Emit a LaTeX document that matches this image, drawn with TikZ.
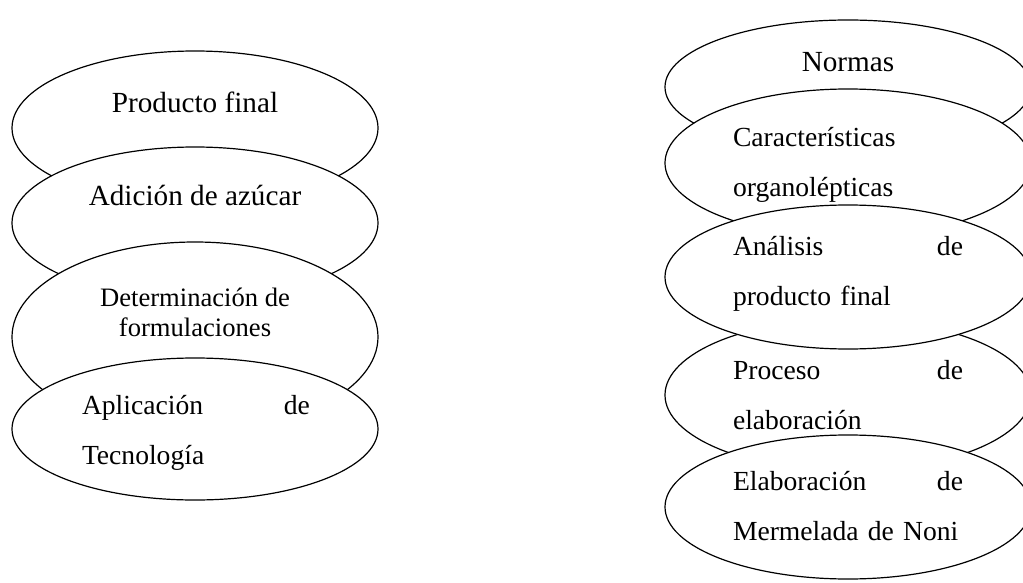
\documentclass[tikz,border=0pt]{standalone}
\usepackage{fontspec}
\setmainfont{Liberation Serif}
\usetikzlibrary{shapes.geometric}

\begin{document}
\begin{tikzpicture}[
    x=0.5pt, y=-0.5pt,
    oval/.style={ellipse, draw, line width=0.6pt, fill=white, inner sep=0pt,
                 minimum width=183pt},
    lbl/.style={inner sep=0pt, font=\fontsize{14.6pt}{25pt}\selectfont},
    two/.style={lbl, text width=115pt, align=left,
                font=\fontsize{13.8pt}{25pt}\selectfont}
]
\useasboundingbox (0,0) rectangle (1023,583);

% columna izquierda
\node[oval, minimum height=77pt] (pf) at (195,128) {};
\node[lbl] (pft) at (195,102) {Producto final};
\node[oval, minimum height=76pt] (aa) at (195,223) {};
\node[lbl] (aat) at (195,195) {Adición de azúcar};
\node[oval, minimum height=95pt] (df) at (195,337) {};
\node[lbl, align=center, font=\fontsize{13.3pt}{15pt}\selectfont] (dft) at (195,312)
    {Determinación de\\formulaciones};
\node[oval, minimum height=71pt] (at) at (195,429) {};
\node[two, text width=114pt] (att) at (196,433) {Aplicación \hfill de\\Tecnología};

% columna derecha
\node[oval, minimum height=67pt] (no) at (848,87) {};
\node[lbl] (not) at (848,62) {Normas};
\node[oval, minimum height=74pt] (co) at (848,163) {};
\node[two] (cot) at (848,165) {Características\\organolépticas};
\node[oval, minimum height=76pt] (pe) at (848,395) {};
\node[two] (pet) at (848,395) {Proceso \hfill de\\elaboración};
\node[oval, minimum height=72pt] (an) at (848,277) {};
\node[two] (ant) at (848,274) {Análisis \hfill de\\producto final};
\node[oval, minimum height=72pt] (el) at (848,507) {};
\node[two] (elt) at (848,506) {Elaboración \hfill de\\Mermelada de Noni};
\end{tikzpicture}
\end{document}
